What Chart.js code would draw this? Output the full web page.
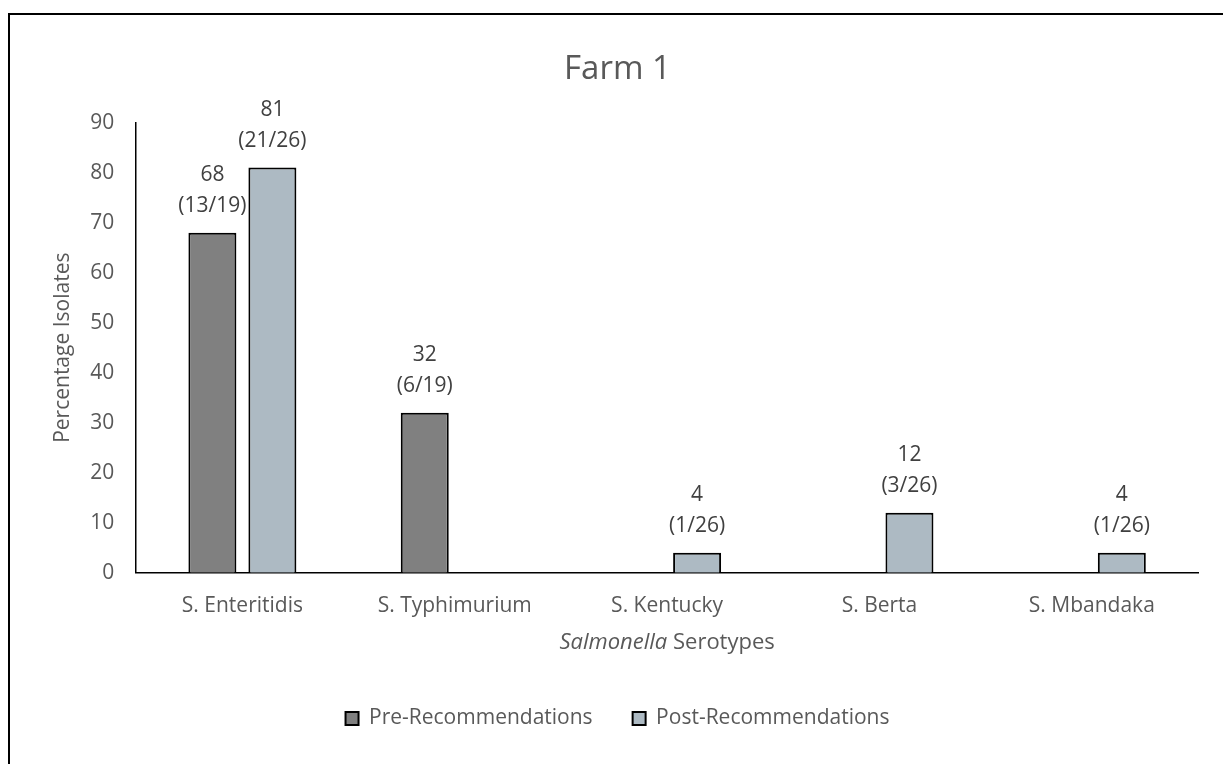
<!DOCTYPE html>
<html>
<head>
<meta charset="utf-8">
<script src="https://cdn.jsdelivr.net/npm/chart.js@4.4.0/dist/chart.umd.min.js"></script>
<style>
  html, body { margin: 0; padding: 0; background: #fff; overflow: hidden; }
  #frame { position: absolute; left: 8px; top: 13px; width: 1240px; height: 780px; border: 2px solid #000; box-sizing: border-box; }
  #wrap { position: absolute; left: 0; top: 0; width: 1223px; height: 764px; }
</style>
</head>
<body>
<div id="frame"></div>
<div id="wrap"><canvas id="myChart"></canvas></div>
<script>
const serotypes = ['S. Enteritidis', 'S. Typhimurium', 'S. Kentucky', 'S. Berta', 'S. Mbandaka'];
const preValues = [68, 32, null, null, null];
const postValues = [81, null, 4, 12, 4];
const preCounts = ['(13/19)', '(6/19)', '', '', ''];
const postCounts = ['(21/26)', '', '(1/26)', '(3/26)', '(1/26)'];
const yTicks = [0, 10, 20, 30, 40, 50, 60, 70, 80, 90];

const FONT = '"Open Sans", Lato, sans-serif';
const GREY = '#595959';

// two-line labels above each bar
const barLabels = {
  id: 'barLabels',
  afterDatasetsDraw(chart) {
    const ctx = chart.ctx;
    const counts = [preCounts, postCounts];
    chart.data.datasets.forEach((ds, i) => {
      chart.getDatasetMeta(i).data.forEach((bar, j) => {
        const v = ds.data[j];
        if (v == null) return;
        ctx.save();
        ctx.fillStyle = '#404040';
        ctx.font = '21px ' + FONT;
        ctx.textAlign = 'center';
        ctx.textBaseline = 'middle';
        ctx.fillText(String(v), bar.x, bar.y - 58);
        ctx.fillText(counts[i][j], bar.x, bar.y - 27);
        ctx.restore();
      });
    });
  }
};

// x axis title with italic genus name
const xTitle = {
  id: 'xTitle',
  afterDraw(chart) {
    const ctx = chart.ctx;
    const area = chart.chartArea;
    const cx = (area.left + area.right) / 2;
    const y = area.bottom + 70;
    const a = 'Salmonella';
    const b = ' Serotypes';
    ctx.save();
    ctx.fillStyle = GREY;
    ctx.textBaseline = 'middle';
    ctx.textAlign = 'left';
    ctx.font = 'italic 22px ' + FONT;
    const wa = ctx.measureText(a).width;
    ctx.font = '22px ' + FONT;
    const wb = ctx.measureText(b).width;
    const x0 = cx - (wa + wb) / 2;
    ctx.font = 'italic 22px ' + FONT;
    ctx.fillText(a, x0, y);
    ctx.font = '22px ' + FONT;
    ctx.fillText(b, x0 + wa, y);
    ctx.restore();
  }
};

const ctx = document.getElementById('myChart').getContext('2d');
new Chart(ctx, {
  type: 'bar',
  data: {
    labels: serotypes,
    datasets: [
      {
        label: 'Pre-Recommendations',
        data: preValues,
        backgroundColor: '#808080',
        borderColor: '#000000',
        borderWidth: 2,
        categoryPercentage: 0.565,
        barPercentage: 0.8,
      },
      {
        label: 'Post-Recommendations',
        data: postValues,
        backgroundColor: '#adbac3',
        borderColor: '#000000',
        borderWidth: 2,
        categoryPercentage: 0.565,
        barPercentage: 0.8,
      },
    ],
  },
  options: {
    responsive: true,
    maintainAspectRatio: false,
    animation: false,
    layout: { padding: { left: 37, right: 25, top: 50, bottom: 25 } },
    plugins: {
      title: {
        display: true,
        text: 'Farm 1',
        color: GREY,
        font: { family: FONT, size: 33, weight: 'normal' },
        padding: { top: 0, bottom: 33 },
      },
      legend: {
        position: 'bottom',
        labels: {
          color: GREY,
          font: { family: FONT, size: 21 },
          boxWidth: 13,
          boxHeight: 13,
          padding: 40,
        },
      },
      tooltip: { enabled: false },
    },
    scales: {
      x: {
        grid: { display: false, drawTicks: false },
        border: { color: '#000', width: 1.5 },
        ticks: { color: GREY, font: { family: FONT, size: 21 }, padding: 21 },
        afterFit(scale) { scale.height += 28; },
      },
      y: {
        min: 0,
        max: 90,
        afterBuildTicks(scale) { scale.ticks = yTicks.map(v => ({ value: v })); },
        grid: { display: false, drawTicks: false },
        border: { color: '#000', width: 1.5 },
        ticks: { color: GREY, font: { family: FONT, size: 21 }, padding: 22 },
        afterFit(scale) { scale.width -= 20; },
        title: {
          display: true,
          text: 'Percentage Isolates',
          color: GREY,
          font: { family: FONT, size: 21 },
          padding: 13,
        },
      },
    },
  },
  plugins: [barLabels, xTitle],
});
</script>
</body>
</html>
